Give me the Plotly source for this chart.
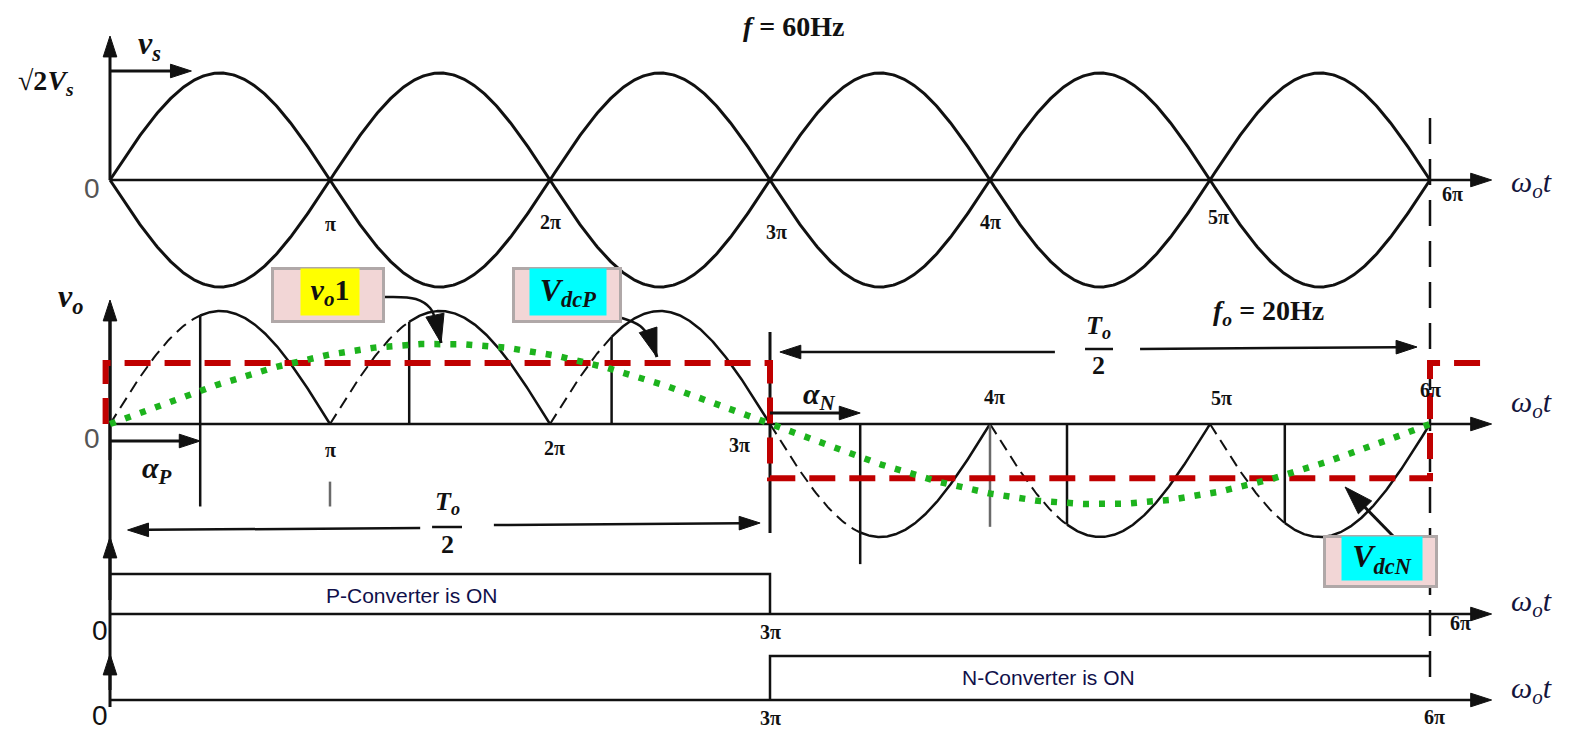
import numpy as np
import plotly.graph_objects as go

# ---------------- values ----------------
HALF_CYCLES = 6                         # supply half-cycles shown, 0 ... 6π
SUPPLY_PEAK = 1.0                       # √2·Vs, normalised
ALPHA_P = [0.41, 0.36, 0.28]            # P-group firing delay in each half-cycle (×π)
ALPHA_N = [0.41, 0.35, 0.34]            # N-group firing delay in each half-cycle (×π)
VDC_P = 0.54                            # mean output while the P-converter conducts
VDC_N = -0.48                           # mean output while the N-converter conducts
VO1_PEAK = 0.71                         # fundamental component of the output
TICK_VALUES = [1, 2, 3, 4, 5, 6]
TICK_LABELS = ["π", "2π", "3π", "4π", "5π", "6π"]

# ---------------- canvas layout ----------------
# x is measured in multiples of π, y in canvas units that grow downwards.
TOP_Y0, TOP_AMP = 180, 107              # supply voltage panel
MID_Y0, MID_AMP = 424, 113              # output voltage panel
P_Y0, P_ON = 614, 574                   # P-converter state
N_Y0, N_ON = 700, 656                   # N-converter state
X_END = 6.28                            # tip of the ωt axes

INK = "#111111"
GREY = "#6a6a6a"
RED = "#C00000"
GREEN = "#1DB31D"
SERIF = "Liberation Serif"
SANS = "Liberation Sans"
WAVE_DASH = "12px,7px"
TICK_SIZE = 20
HEAD = 22                               # arrowhead size on axes and spans
POINTER_HEAD = 30                       # arrowhead size on callout pointers

fig = go.Figure()


def line(x, y, color=INK, width=2.5, dash=None, shape="linear"):
    fig.add_trace(go.Scatter(x=list(x), y=list(y), mode="lines",
                             line=dict(color=color, width=width, dash=dash, shape=shape),
                             hoverinfo="skip", showlegend=False))


def arrow(x0, y0, x1, y1, width=2.5, size=HEAD, color=INK):
    """Straight line with a filled head at (x1, y1)."""
    fig.add_trace(go.Scatter(x=[x0, x1], y=[y0, y1], mode="lines+markers",
                             line=dict(color=color, width=width),
                             marker=dict(symbol="arrow", size=[0, size], angleref="previous",
                                         color=color, opacity=1, line=dict(width=1, color=color)),
                             hoverinfo="skip", showlegend=False))


def label(x, y, text, size, family=SERIF, color=INK, xanchor="center", **kw):
    fig.add_annotation(x=x, y=y, text=text, showarrow=False, xanchor=xanchor, yanchor="middle",
                       font=dict(size=size, family=family, color=color), **kw)


def mid(v):
    return MID_Y0 - MID_AMP * np.asarray(v)


def rectified(x):
    return np.abs(np.sin(np.pi * np.asarray(x)))


OMEGA_T = "<i>ω</i><sub><i>o</i></sub><i>t</i>"

# ---------------- supply voltage ----------------
xs = np.linspace(0, HALF_CYCLES, 1201)
vs = SUPPLY_PEAK * np.sin(np.pi * xs)
line(xs, TOP_Y0 - TOP_AMP * vs, width=3)
line(xs, TOP_Y0 + TOP_AMP * vs, width=3)
arrow(0, TOP_Y0, X_END, TOP_Y0)
arrow(0, TOP_Y0, 0, 36, width=3)
arrow(0, TOP_Y0 - TOP_AMP * SUPPLY_PEAK - 2, 0.37, TOP_Y0 - TOP_AMP * SUPPLY_PEAK - 2, width=3)

label(3.11, 26, "<b><i>f</i> = 60Hz</b>", 28)
label(0.18, 45, "<b><i>v</i><sub><i>s</i></sub></b>", 32)
label(-0.29, 82, "<b>√2<i>V</i><sub><i>s</i></sub></b>", 28)
label(-0.082, TOP_Y0 + 8, "0", 28, family=SANS, color="#555")
label(6.36, TOP_Y0 + 4, OMEGA_T, 30, color="#14143c", xanchor="left")
top_tick_offsets = [(0.0, 44), (0.0, 42), (0.03, 52), (0.0, 42), (0.04, 37), (0.1, 14)]
for t, txt, (dx, dy) in zip(TICK_VALUES, TICK_LABELS, top_tick_offsets):
    label(t + dx, TOP_Y0 + dy, f"<b>{txt}</b>", TICK_SIZE)

# 6π boundary
line([6, 6], [118, 682], width=2.5, dash="26px,15px")

# ---------------- output voltage ----------------
# P-converter half-cycles (positive group)
for k, a in enumerate(ALPHA_P):
    xf = k + a
    xd = np.linspace(k, xf, 40)
    line(xd, mid(rectified(xd)), width=2, dash=WAVE_DASH)
    xc = np.linspace(xf, k + 1, 160)
    line(xc, mid(rectified(xc)), width=2.5)
    line([xf, xf], [mid(0), mid(rectified(xf))], width=2.5)

# N-converter half-cycles (negative group)
for k, a in enumerate(ALPHA_N):
    s = 3 + k
    xf = s + a
    xd = np.linspace(s, xf, 40)
    line(xd, mid(-rectified(xd)), width=2, dash=WAVE_DASH)
    xc = np.linspace(xf, s + 1, 160)
    line(xc, mid(-rectified(xc)), width=2.5)
    line([xf, xf], [mid(0), mid(-rectified(xf))], width=2.5)

# guide ticks below the output axis
line([ALPHA_P[0], ALPHA_P[0]], [mid(0), mid(-0.73)], width=2.5)
line([1, 1], [mid(-0.51), mid(-0.73)], width=2.5, color=GREY)
line([3 + ALPHA_N[0], 3 + ALPHA_N[0]], [mid(-rectified(3 + ALPHA_N[0])), mid(-1.24)], width=2.5)
line([4, 4], [mid(0), mid(-0.91)], width=2.5, color=GREY)
line([3, 3], [332, 533], width=3)

# output axis and the shared vertical axis of the lower panels
arrow(0, MID_Y0, X_END, MID_Y0)
line([0, 0], [707, 310], width=3)
arrow(0, 460, 0, 300, width=3)
arrow(0, 600, 0, 537, width=3)
arrow(0, 690, 0, 654, width=3)

# average (square wave) and fundamental
line([-0.02, -0.02, 3, 3, 6, 6, 6.24],
     mid([0, VDC_P, VDC_P, VDC_N, VDC_N, VDC_P, VDC_P]),
     color=RED, width=6, dash="26px,14px")
xo = np.linspace(0, HALF_CYCLES, 600)
line(xo, mid(VO1_PEAK * np.sin(np.pi * xo / 3)), color=GREEN, width=6.5, dash="6px,10px")

# firing-delay markers
arrow(0, MID_Y0 + 17, ALPHA_P[0], MID_Y0 + 17, width=3)
label(0.214, 470, "<b><i>α</i><sub><i>P</i></sub></b>", 30)
arrow(3, MID_Y0 - 11, 3 + ALPHA_N[0], MID_Y0 - 11, width=3)
label(3.227, 396, "<b><i>α</i><sub><i>N</i></sub></b>", 30)

label(-0.18, 298, "<b><i>v</i><sub><i>o</i></sub></b>", 32)
label(-0.082, MID_Y0 + 14, "0", 28, family=SANS, color="#555")
label(6.36, MID_Y0 - 20, OMEGA_T, 30, color="#14143c", xanchor="left")
mid_tick_offsets = [(0.0, 26), (0.02, 24), (-0.14, 21), (0.02, -27), (0.05, -26), (0.0, -34)]
for t, txt, (dx, dy) in zip(TICK_VALUES, TICK_LABELS, mid_tick_offsets):
    label(t + dx, MID_Y0 + dy, f"<b>{txt}</b>", TICK_SIZE)

# half output period markers
arrow(1.41, 528, 0.08, 530)
arrow(1.745, 525, 2.955, 523)
label(1.532, 503, "<b><i>T</i><sub><i>o</i></sub></b>", 26)
line([1.464, 1.6], [527, 527], width=2.5)
label(1.532, 544, "<b>2</b>", 26)

arrow(4.295, 352, 3.045, 352)
arrow(4.682, 349, 5.941, 347)
label(4.495, 327, "<b><i>T</i><sub><i>o</i></sub></b>", 26)
line([4.432, 4.559], [349, 349], width=2.5)
label(4.495, 365, "<b>2</b>", 26)
label(5.264, 312, "<b><i>f</i><sub><i>o</i></sub> = 20Hz</b>", 28)


# callouts
def callout(xc, yc, w, h, ixc, iyc, iw, ih, fill, text, size):
    fig.add_annotation(x=xc, y=yc, text="&nbsp;", width=w, height=h, bgcolor="#F2D6D6",
                       bordercolor="#B0A8A8", borderwidth=3, borderpad=0, showarrow=False,
                       font=dict(size=size, family=SERIF))
    fig.add_annotation(x=ixc, y=iyc, text=text, width=iw, height=ih, bgcolor=fill,
                       borderpad=0, showarrow=False,
                       font=dict(size=size, family=SERIF, color="#111"))


callout(0.993, 295, 108, 50, 1.0, 292, 58, 46, "#FFFF00",
        "<b><i>v</i><sub><i>o</i></sub>1</b>", 30)
callout(2.077, 295, 104, 50, 2.082, 292, 76, 46, "#00FFFF",
        "<b><i>V</i><sub><i>dcP</i></sub></b>", 32)
callout(5.773, 561, 109, 47, 5.782, 558, 80, 43, "#00FFFF",
        "<b><i>V</i><sub><i>dcN</i></sub></b>", 32)

line([1.25, 1.39, 1.455, 1.482], [297, 299, 308, 322], width=2.5, shape="spline")
arrow(1.482, 320, 1.505, 343, width=3, size=POINTER_HEAD)
line([2.327, 2.41, 2.455], [318, 326, 338], width=2.5, shape="spline")
arrow(2.455, 336, 2.486, 357, width=3, size=POINTER_HEAD)
arrow(5.832, 536, 5.614, 487, width=3, size=POINTER_HEAD)

# ---------------- converter conduction ----------------
arrow(0, P_Y0, X_END, P_Y0)
line([0, 3, 3], [P_ON, P_ON, P_Y0], width=2.5)
label(1.373, 595, "P-Converter is ON", 21, family=SANS, color="#10104a")
label(-0.045, P_Y0 + 16, "0", 28, family=SANS, color="#111")
label(6.36, P_Y0 - 11, OMEGA_T, 30, color="#14143c", xanchor="left")
label(3.0, 632, "<b>3π</b>", TICK_SIZE)
label(6.14, 623, "<b>6π</b>", TICK_SIZE)

arrow(0, N_Y0, X_END, N_Y0)
line([3, 3, 6], [N_Y0, N_ON, N_ON], width=2.5)
label(4.264, 677, "N-Converter is ON", 21, family=SANS, color="#10104a")
label(-0.045, 715, "0", 28, family=SANS, color="#111")
label(6.36, N_Y0 - 10, OMEGA_T, 30, color="#14143c", xanchor="left")
label(3.0, 718, "<b>3π</b>", TICK_SIZE)
label(6.02, 717, "<b>6π</b>", TICK_SIZE)

fig.update_layout(
    width=1576, height=731,
    margin=dict(l=0, r=0, t=0, b=0),
    paper_bgcolor="white", plot_bgcolor="white",
    xaxis=dict(range=[-0.5, -0.5 + 1576 / 220], visible=False, fixedrange=True),
    yaxis=dict(range=[731, 0], visible=False, fixedrange=True),
    showlegend=False,
)

fig.write_html("out.html", config={"displayModeBar": False})
